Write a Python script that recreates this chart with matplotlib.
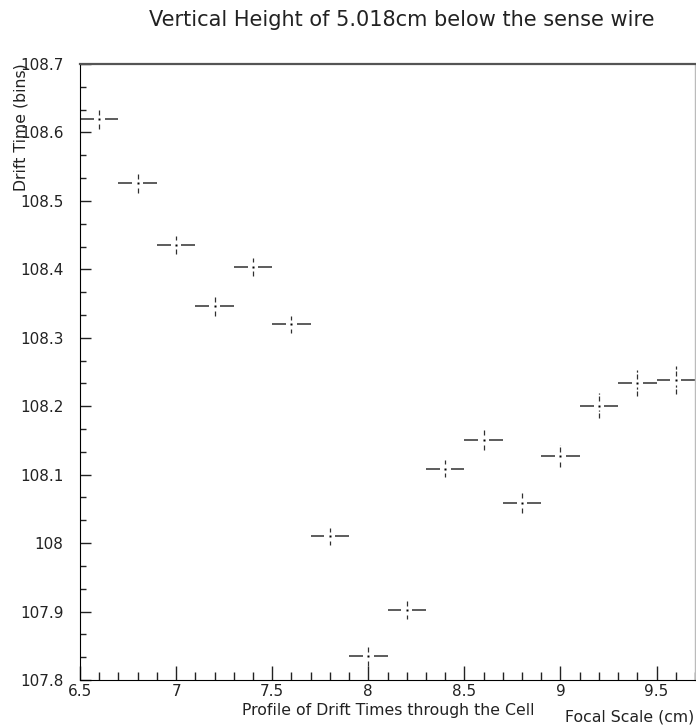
import numpy as np
import matplotlib
matplotlib.use("Agg")
import matplotlib.pyplot as plt
from matplotlib.ticker import MultipleLocator, AutoMinorLocator

### profile data (bin centres, mean drift time, error on mean)
focal = [6.6, 6.8, 7.0, 7.2, 7.4, 7.6, 7.8, 8.0,
         8.2, 8.4, 8.6, 8.8, 9.0, 9.2, 9.4, 9.6]
drift = [108.619, 108.526, 108.436, 108.346, 108.404, 108.320, 108.010, 107.835,
         107.902, 108.109, 108.151, 108.059, 108.127, 108.201, 108.234, 108.238]
drift_err = [0.0146, 0.0146, 0.0131, 0.0136, 0.0131, 0.0124, 0.0127, 0.0146,
             0.0131, 0.0127, 0.0150, 0.0146, 0.0158, 0.0187, 0.0194, 0.0204]
bin_half = 0.1

x = np.array(focal)
y = np.array(drift)
ey = np.array(drift_err)

### gap around the marker (data units)
gx = 0.028
gy = 0.0065

fig = plt.figure(figsize=(6.96, 7.28), dpi=100)
ax = fig.add_axes([80/696, 1-680/728, 615/696, 616/728])

lc = '#303030'
ax.hlines(y, x - bin_half, x - gx, color=lc, lw=1.1)
ax.hlines(y, x + gx, x + bin_half, color=lc, lw=1.1)
ax.vlines(x, y + gy, y + ey, color=lc, lw=0.9, linestyles=(0, (4, 1.5)))
ax.vlines(x, y - ey, y - gy, color=lc, lw=0.9, linestyles=(0, (4, 1.5)))
ax.plot(x, y, 's', ms=1.6, color='black', mec='none')

ax.set_xlim(6.5, 9.7)
ax.set_ylim(107.8, 108.7)

ax.xaxis.set_minor_locator(MultipleLocator(0.1))
ax.yaxis.set_minor_locator(AutoMinorLocator(3))
ax.set_xticks([6.5, 7, 7.5, 8, 8.5, 9, 9.5])
ax.set_xticklabels(['6.5', '7', '7.5', '8', '8.5', '9', '9.5'])
ax.set_yticks([107.8, 107.9, 108, 108.1, 108.2, 108.3, 108.4, 108.5, 108.6, 108.7])
ax.set_yticklabels(['107.8', '107.9', '108', '108.1', '108.2', '108.3',
                    '108.4', '108.5', '108.6', '108.7'])

ax.tick_params(axis='both', which='both', direction='in', top=False, right=False,
               labelsize=11, colors='#222222', width=1)
ax.tick_params(axis='y', which='major', length=8, pad=12)
ax.tick_params(axis='y', which='minor', length=4.5)
ax.tick_params(axis='x', which='major', length=10, pad=3)
ax.tick_params(axis='x', which='minor', length=5.5)

ax.spines['left'].set_color('black')
ax.spines['bottom'].set_color('black')
ax.spines['top'].set_color('#555555')
ax.spines['top'].set_linewidth(1.6)
ax.spines['right'].set_color('#bbbbbb')
ax.spines['right'].set_linewidth(1)

fig.text(402/696, 1-20/728, 'Vertical Height of 5.018cm below the sense wire',
         ha='center', va='center', fontsize=15, color='#222222')
fig.text(388/696, 1-710/728, 'Profile of Drift Times through the Cell',
         ha='center', va='center', fontsize=11.3, color='#222222')
fig.text(694/696, 1-717/728, 'Focal Scale (cm)',
         ha='right', va='center', fontsize=11.3, color='#222222')
fig.text(21/696, 1-63/728, 'Drift Time (bins)', rotation=90,
         ha='center', va='top', fontsize=11.3, color='#222222')

plt.savefig('out.png', dpi=100)
